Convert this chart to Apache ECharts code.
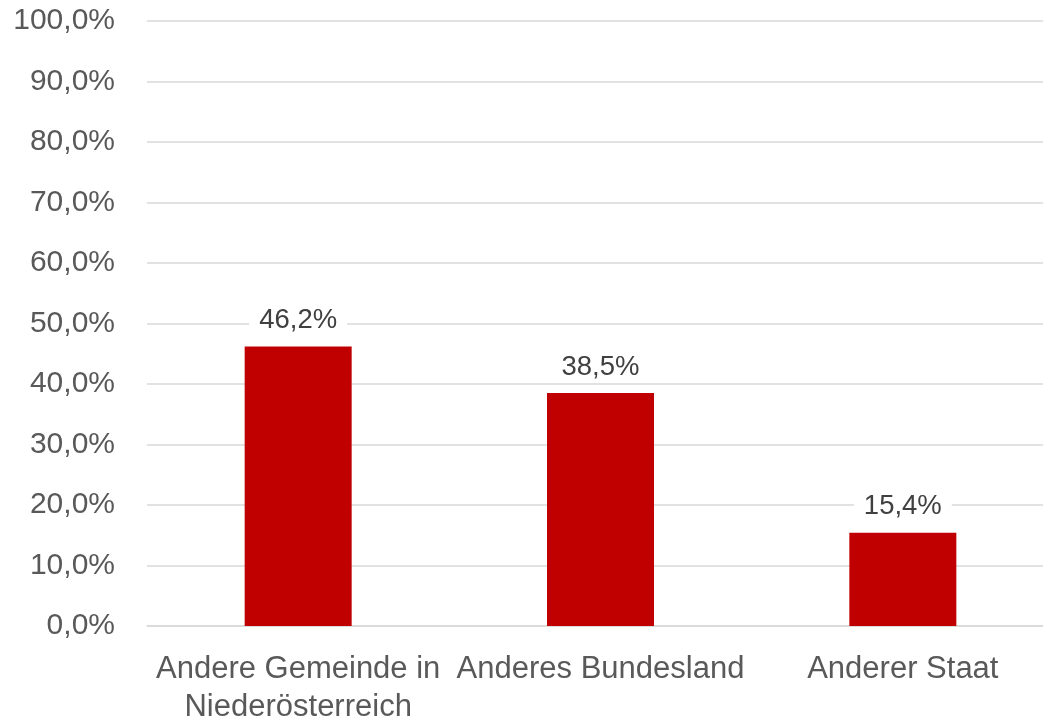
<!DOCTYPE html>
<html>
<head>
<meta charset="utf-8">
<script src="https://cdn.jsdelivr.net/npm/echarts@6/dist/echarts.min.js"></script>
<style>
  html, body { margin: 0; padding: 0; background: #fff; overflow: hidden; }
  /* plot runs past the right edge, as in the original export */
  #chart { width: 1054px; height: 719px; }
</style>
</head>
<body>
<div id="chart"></div>
<script>
// Herkunft - Anteile in Prozent
const categories = ['Andere Gemeinde in\nNiederösterreich', 'Anderes Bundesland', 'Anderer Staat'];
const shares = [46.2, 38.5, 15.4];
const yMin = 0;
const yMax = 100;
const yStep = 10;

function pct(v) {
  return v.toFixed(1).replace('.', ',') + '%';
}

const chart = echarts.init(document.getElementById('chart'));

chart.setOption({
  animation: false,
  grid: {
    left: 147,
    right: 0,
    top: 21,
    bottom: 93,
    outerBoundsMode: 'none'
  },
  xAxis: {
    type: 'category',
    data: categories,
    axisLine: { show: true, lineStyle: { color: '#d9d9d9', width: 1.5 } },
    axisTick: { show: false },
    axisLabel: {
      color: '#595959',
      fontFamily: 'Liberation Sans',
      fontSize: 31,
      lineHeight: 38,
      margin: 24,
      interval: 0
    }
  },
  yAxis: {
    type: 'value',
    min: yMin,
    max: yMax,
    interval: yStep,
    axisLine: { show: false },
    axisTick: { show: false },
    splitLine: { lineStyle: { color: '#d9d9d9', width: 1.5 } },
    axisLabel: {
      color: '#595959',
      fontFamily: 'Liberation Sans',
      fontSize: 30,
      margin: 32,
      formatter: pct
    }
  },
  series: [{
    type: 'bar',
    data: shares,
    barWidth: 107,
    itemStyle: { color: '#c00000' },
    label: {
      show: true,
      position: 'top',
      distance: 10,
      color: '#404040',
      fontFamily: 'Liberation Sans',
      fontSize: 27.5,
      backgroundColor: '#fff',
      padding: [2, 10],
      formatter: p => pct(p.value)
    }
  }]
});
</script>
</body>
</html>
